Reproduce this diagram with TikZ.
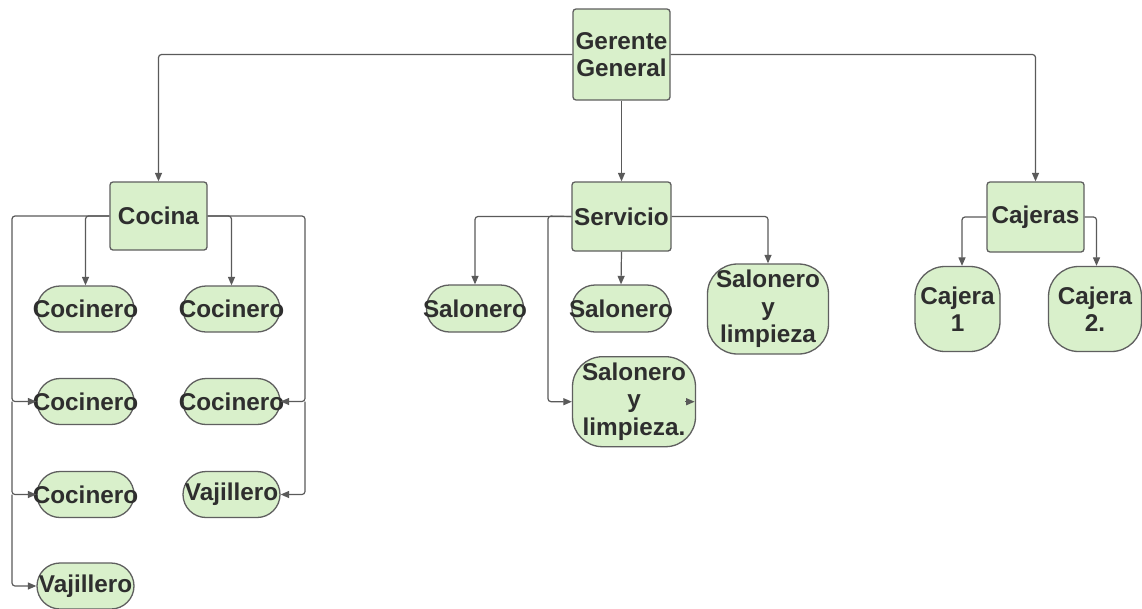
\documentclass[tikz,border=0pt]{standalone}
\usepackage{fontspec}
\setmainfont{Liberation Sans}
\usetikzlibrary{arrows.meta}
\definecolor{boxfill}{HTML}{D9F0CB}
\definecolor{boxline}{HTML}{5F5F5F}
\definecolor{wire}{HTML}{5A5A5A}
\definecolor{ink}{HTML}{2E2E2E}
\tikzset{
  base/.style={draw=boxline, line width=1.3pt, fill=boxfill, inner sep=0pt,
    text=ink, font=\fontsize{24.3}{27.5}\selectfont\bfseries, align=center},
  dept/.style={base, rectangle, rounded corners=3pt},
  staff/.style={base, rectangle, rounded corners=23pt},
  tallstaff/.style={base, rectangle, rounded corners=30pt},
  wireline/.style={draw=wire, line width=1.2pt, rounded corners=3pt,
    -{Triangle[length=8.5pt,width=7pt]}}
}
\newcommand{\onel}[1]{\makebox[0pt]{#1}}
\begin{document}
\begin{tikzpicture}[x=1pt,y=-1pt]
\useasboundingbox[fill=white] (0,0) rectangle (1142,608);

% top level
\node[dept, minimum width=97pt, minimum height=91pt] (ger) at (621.5,54.5) {Gerente\\General};

% departments
\node[dept, minimum width=97pt, minimum height=68pt] (coc) at (158.5,216) {\onel{Cocina}};
\node[dept, minimum width=99pt, minimum height=69pt] (ser) at (621.5,216.5) {\onel{Servicio}};
\node[dept, minimum width=97pt, minimum height=70pt] (caj) at (1035.5,217) {\onel{Cajeras}};

% kitchen staff
\node[staff, minimum width=97pt, minimum height=46pt] (c1) at (85.5,309) {\onel{Cocinero}};
\node[staff, minimum width=97pt, minimum height=46pt] (c2) at (85.5,401.5) {\onel{Cocinero}};
\node[staff, minimum width=97pt, minimum height=46pt] (c3) at (85.5,494.5) {\onel{Cocinero}};
\node[staff, minimum width=97pt, minimum height=46pt] (v1) at (85.5,586) {\onel{Vajillero}};
\node[staff, minimum width=97pt, minimum height=46pt] (c4) at (231.5,309) {\onel{Cocinero}};
\node[staff, minimum width=97pt, minimum height=46pt] (c5) at (231.5,401.5) {\onel{Cocinero}};
\node[staff, minimum width=97pt, minimum height=46pt] (v2) at (231.5,494.5) {\onel{Vajillero}};

% service staff
\node[staff, minimum width=97pt, minimum height=47pt] (s1) at (475,308.5) {\onel{Salonero}};
\node[staff, minimum width=98pt, minimum height=47pt] (s2) at (621,308.5) {\onel{Salonero}};
\node[tallstaff, minimum width=121pt, minimum height=90pt] (sl1) at (768,309) {Salonero\\y\\limpieza};
\node[tallstaff, minimum width=123pt, minimum height=90pt] (sl2) at (634,401.7) {Salonero\\y\\limpieza.};

% cashiers
\node[tallstaff, minimum width=85pt, minimum height=85pt] (cj1) at (957.5,309) {Cajera\\1};
\node[tallstaff, minimum width=93pt, minimum height=85pt] (cj2) at (1095,309) {Cajera\\2.};

% connectors from the top
\draw[wireline] (ger.west) -| (coc.north);
\draw[wireline] (ger.east) -| (caj.north);
\draw[wireline] (ger.south) -- (ser.north);

% kitchen connectors
\coordinate (lbus) at (12,216);
\coordinate (rbus) at (305,216);
\draw[wireline] (coc.west) -| (c1.north);
\draw[wireline] (coc.west) -- (lbus) |- (c2.west);
\draw[wireline] (lbus |- c2.west) |- (c3.west);
\draw[wireline] (lbus |- c3.west) |- (v1.west);
\draw[wireline] (coc.east) -| (c4.north);
\draw[wireline] (coc.east) -- (rbus) |- (c5.east);
\draw[wireline] (rbus |- c5.east) |- (v2.east);

% service connectors
\coordinate (sbus) at (548,216);
\draw[wireline] (ser.west) -| (s1.north);
\draw[wireline] (ser.west) -- (sbus) |- (sl2.west);
\draw[wireline] (ser.south) -- (s2.north);
\draw[wireline] (ser.east) -| (sl1.north);
\draw[wireline] ([xshift=-11pt]sl2.east) -- ([xshift=-1.5pt]sl2.east);

% cashier connectors
\draw[wireline] (caj.west) -| ([xshift=4.5pt]cj1.north);
\draw[wireline] (caj.east) -| ([xshift=1.5pt]cj2.north);
\end{tikzpicture}
\end{document}
